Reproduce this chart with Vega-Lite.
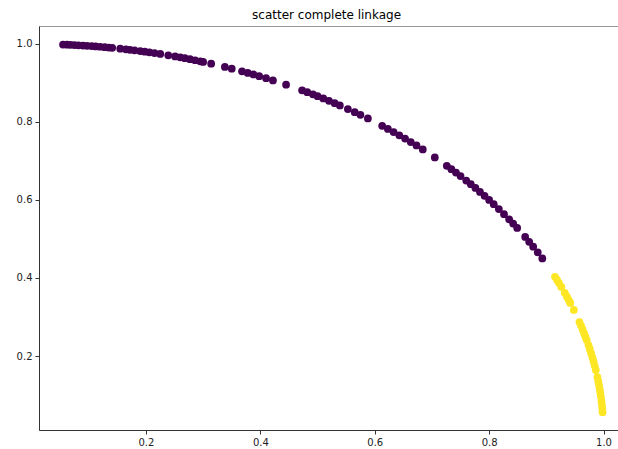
{
  "$schema": "https://vega.github.io/schema/vega-lite/v6.json",
  "autosize": {"type": "none"},
  "padding": {"left": 39, "top": 26, "right": 0, "bottom": 19},
  "width": 583,
  "height": 404,
  "background": "white",
  "title": {"text": "scatter complete linkage", "font": "DejaVu Sans", "fontSize": 12, "fontWeight": "normal", "color": "#000", "offset": 4, "anchor": "start", "dx": 236},
  "config": {
    "view": {"stroke": "#999", "strokeWidth": 1},
    "axis": {"labelFont": "DejaVu Sans", "labelFontSize": 10, "labelColor": "#222", "domainColor": "#333", "tickColor": "#333", "tickSize": 4, "labelPadding": 3, "grid": false, "title": null}
  },
  "data": {"values": [
    {"x": 0.055, "y": 0.9985, "c": 0}, {"x": 0.062, "y": 0.998, "c": 0}, {"x": 0.068, "y": 0.9977, "c": 0}, {"x": 0.075, "y": 0.9972, "c": 0},
    {"x": 0.082, "y": 0.9966, "c": 0}, {"x": 0.09, "y": 0.9959, "c": 0}, {"x": 0.097, "y": 0.9953, "c": 0}, {"x": 0.105, "y": 0.9945, "c": 0},
    {"x": 0.112, "y": 0.9937, "c": 0}, {"x": 0.12, "y": 0.9928, "c": 0}, {"x": 0.128, "y": 0.9918, "c": 0}, {"x": 0.135, "y": 0.9908, "c": 0},
    {"x": 0.141, "y": 0.99, "c": 0},
    {"x": 0.155, "y": 0.9879, "c": 0}, {"x": 0.165, "y": 0.9863, "c": 0}, {"x": 0.172, "y": 0.9851, "c": 0}, {"x": 0.18, "y": 0.9837, "c": 0},
    {"x": 0.19, "y": 0.9818, "c": 0}, {"x": 0.198, "y": 0.9802, "c": 0}, {"x": 0.206, "y": 0.9786, "c": 0}, {"x": 0.215, "y": 0.9766, "c": 0},
    {"x": 0.225, "y": 0.9744, "c": 0},
    {"x": 0.239, "y": 0.971, "c": 0},
    {"x": 0.251, "y": 0.968, "c": 0}, {"x": 0.26, "y": 0.9656, "c": 0}, {"x": 0.268, "y": 0.9634, "c": 0}, {"x": 0.277, "y": 0.9609, "c": 0},
    {"x": 0.286, "y": 0.9582, "c": 0}, {"x": 0.295, "y": 0.9555, "c": 0}, {"x": 0.3, "y": 0.954, "c": 0},
    {"x": 0.314, "y": 0.9494, "c": 0},
    {"x": 0.338, "y": 0.9411, "c": 0}, {"x": 0.35, "y": 0.9367, "c": 0},
    {"x": 0.368, "y": 0.9298, "c": 0}, {"x": 0.378, "y": 0.9258, "c": 0}, {"x": 0.388, "y": 0.9217, "c": 0}, {"x": 0.398, "y": 0.9174, "c": 0},
    {"x": 0.41, "y": 0.9121, "c": 0}, {"x": 0.422, "y": 0.9066, "c": 0},
    {"x": 0.445, "y": 0.8955, "c": 0},
    {"x": 0.473, "y": 0.8811, "c": 0}, {"x": 0.482, "y": 0.8762, "c": 0}, {"x": 0.492, "y": 0.8708, "c": 0}, {"x": 0.5, "y": 0.866, "c": 0},
    {"x": 0.51, "y": 0.8602, "c": 0}, {"x": 0.52, "y": 0.8542, "c": 0}, {"x": 0.53, "y": 0.848, "c": 0}, {"x": 0.539, "y": 0.8423, "c": 0},
    {"x": 0.553, "y": 0.8332, "c": 0},
    {"x": 0.565, "y": 0.8251, "c": 0}, {"x": 0.575, "y": 0.8182, "c": 0}, {"x": 0.588, "y": 0.8089, "c": 0},
    {"x": 0.613, "y": 0.7901, "c": 0}, {"x": 0.623, "y": 0.7822, "c": 0}, {"x": 0.633, "y": 0.7741, "c": 0}, {"x": 0.643, "y": 0.7659, "c": 0},
    {"x": 0.653, "y": 0.7573, "c": 0}, {"x": 0.663, "y": 0.7486, "c": 0}, {"x": 0.673, "y": 0.7397, "c": 0}, {"x": 0.684, "y": 0.7294, "c": 0},
    {"x": 0.705, "y": 0.7092, "c": 0},
    {"x": 0.726, "y": 0.6877, "c": 0}, {"x": 0.734, "y": 0.679, "c": 0}, {"x": 0.742, "y": 0.6704, "c": 0}, {"x": 0.75, "y": 0.6614, "c": 0},
    {"x": 0.76, "y": 0.6499, "c": 0}, {"x": 0.768, "y": 0.6404, "c": 0}, {"x": 0.776, "y": 0.6307, "c": 0}, {"x": 0.784, "y": 0.6207, "c": 0},
    {"x": 0.792, "y": 0.6106, "c": 0}, {"x": 0.8, "y": 0.6, "c": 0}, {"x": 0.808, "y": 0.5892, "c": 0}, {"x": 0.817, "y": 0.5766, "c": 0},
    {"x": 0.826, "y": 0.5637, "c": 0}, {"x": 0.835, "y": 0.5503, "c": 0}, {"x": 0.842, "y": 0.5394, "c": 0}, {"x": 0.849, "y": 0.5284, "c": 0},
    {"x": 0.863, "y": 0.5052, "c": 0}, {"x": 0.87, "y": 0.4926, "c": 0}, {"x": 0.877, "y": 0.4804, "c": 0}, {"x": 0.885, "y": 0.4656, "c": 0},
    {"x": 0.893, "y": 0.45, "c": 0},
    {"x": 0.9152, "y": 0.403, "c": 1}, {"x": 0.9187, "y": 0.395, "c": 1}, {"x": 0.9221, "y": 0.387, "c": 1}, {"x": 0.9262, "y": 0.377, "c": 1},
    {"x": 0.9322, "y": 0.362, "c": 1}, {"x": 0.936, "y": 0.352, "c": 1}, {"x": 0.9393, "y": 0.343, "c": 1}, {"x": 0.9418, "y": 0.336, "c": 1},
    {"x": 0.9481, "y": 0.318, "c": 1},
    {"x": 0.9579, "y": 0.287, "c": 1}, {"x": 0.9606, "y": 0.278, "c": 1}, {"x": 0.9634, "y": 0.268, "c": 1}, {"x": 0.9661, "y": 0.258, "c": 1},
    {"x": 0.9685, "y": 0.249, "c": 1}, {"x": 0.9705, "y": 0.241, "c": 1},
    {"x": 0.9737, "y": 0.228, "c": 1}, {"x": 0.9759, "y": 0.218, "c": 1}, {"x": 0.9783, "y": 0.207, "c": 1}, {"x": 0.9806, "y": 0.196, "c": 1},
    {"x": 0.9825, "y": 0.186, "c": 1}, {"x": 0.9846, "y": 0.175, "c": 1}, {"x": 0.9865, "y": 0.164, "c": 1},
    {"x": 0.9893, "y": 0.146, "c": 1}, {"x": 0.9907, "y": 0.136, "c": 1}, {"x": 0.992, "y": 0.126, "c": 1}, {"x": 0.9932, "y": 0.116, "c": 1},
    {"x": 0.9944, "y": 0.106, "c": 1}, {"x": 0.9954, "y": 0.096, "c": 1}, {"x": 0.9964, "y": 0.085, "c": 1}, {"x": 0.9972, "y": 0.075, "c": 1},
    {"x": 0.9979, "y": 0.065, "c": 1}, {"x": 0.9984, "y": 0.056, "c": 1}
  ]},
  "mark": {"type": "circle", "size": 60, "opacity": 1},
  "encoding": {
    "x": {"field": "x", "type": "quantitative", "scale": {"domain": [0.013, 1.0323], "zero": false, "nice": false},
          "axis": {"values": [0.2, 0.4, 0.6, 0.8, 1.0], "format": ".1f"}},
    "y": {"field": "y", "type": "quantitative", "scale": {"domain": [0.0103, 1.046], "zero": false, "nice": false},
          "axis": {"values": [0.2, 0.4, 0.6, 0.8, 1.0], "format": ".1f"}},
    "color": {"field": "c", "type": "nominal", "scale": {"domain": [0, 1], "range": ["#440154", "#fde725"]}, "legend": null}
  }
}
